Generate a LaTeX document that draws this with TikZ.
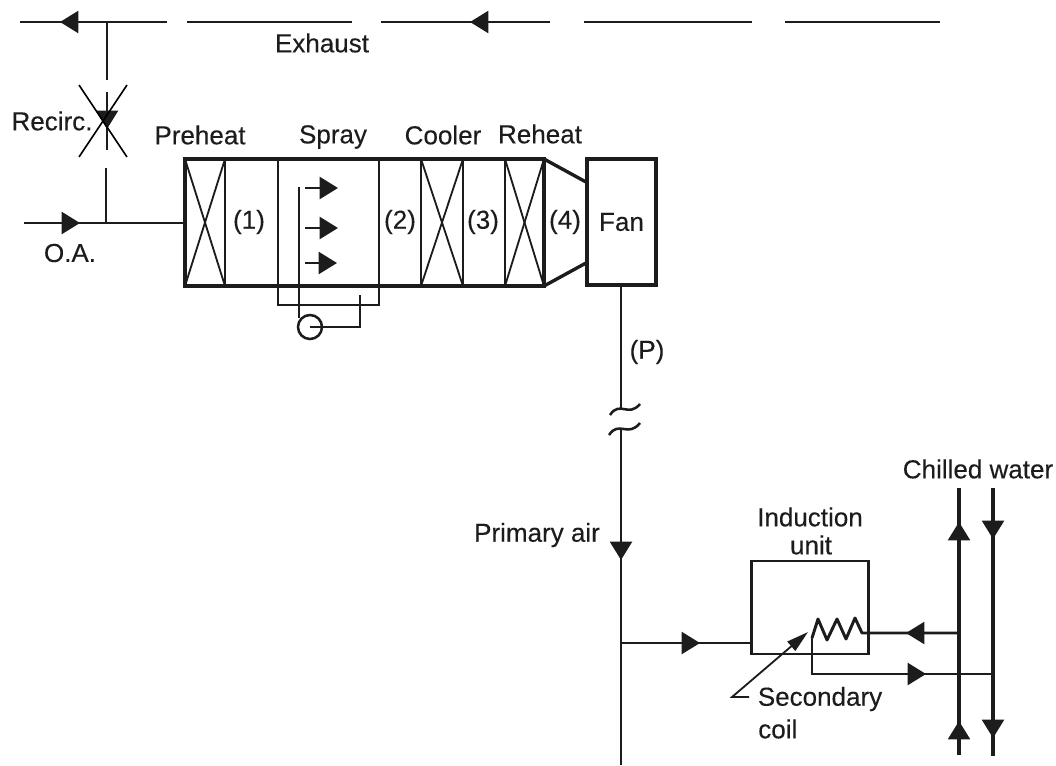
\documentclass[tikz,border=0pt]{standalone}
\usepackage{fontspec}
\setmainfont[FakeBold=0.25]{Liberation Sans}
\usetikzlibrary{arrows.meta}
\definecolor{ink}{HTML}{1C1C1C}
\tikzset{
  thin line/.style={draw=ink,line width=1.3pt},
  pipe/.style={draw=ink,line width=1.8pt},
  wall/.style={draw=ink,line width=2.4pt,line join=miter},
  partition/.style={draw=ink,line width=2pt},
  flow/.style={draw=ink,line width=1.8pt,-{Triangle[length=0.46cm,width=0.55cm]}},
  leader/.style={draw=ink,line width=1.3pt,-{Triangle[length=0.55cm,width=0.3cm]}},
  lab/.style={text=ink,font=\fontsize{18.5}{22}\selectfont,inner sep=0pt},
}

\begin{document}
\begin{tikzpicture}[x=0.025cm,y=-0.025cm]
  \useasboundingbox (0,0) rectangle (1056,765);
  % exhaust line, broken
  \coordinate (exA) at ( 20,22);
  \coordinate (exB) at (167,22);
  \coordinate (exC) at (187,22);
  \coordinate (exD) at (352,22);
  \coordinate (exE) at (381,22);
  \coordinate (exF) at (550,22);
  \coordinate (exG) at (584,22);
  \coordinate (exH) at (752,22);
  \coordinate (exI) at (785,22);
  \coordinate (exJ) at (940,22);
  \coordinate (exTipA) at ( 60,22);
  \coordinate (exTipB) at (470,22);
  \draw[pipe] (exA) -- (exB);
  \draw[pipe] (exC) -- (exD);
  \draw[pipe] (exE) -- (exF);
  \draw[pipe] (exG) -- (exH);
  \draw[pipe] (exI) -- (exJ);
  \draw[flow] (exB) -- (exTipA);
  \draw[flow] (exF) -- (exTipB);
  % recirculation, crossed out
  \coordinate (reA) at (107, 22);
  \coordinate (reB) at (107, 80);
  \coordinate (reC) at (107, 92);
  \coordinate (reD) at (107,150);
  \coordinate (reE) at (106,168);
  \coordinate (reF) at (106,223);
  \coordinate (reTip) at (107,129);
  \draw[pipe] (reA) -- (reB);
  \draw[pipe] (reC) -- (reD);
  \draw[pipe] (reE) -- (reF);
  \draw[flow] (reC) -- (reTip);
  \coordinate (crA) at ( 79, 85);
  \coordinate (crB) at (127,157);
  \coordinate (crC) at (127, 85);
  \coordinate (crD) at ( 79,157);
  \draw[black,line width=1.1pt] (crA) -- (crB);
  \draw[black,line width=1.1pt] (crC) -- (crD);
  % outside air
  \coordinate (oaA) at ( 24,223);
  \coordinate (oaB) at (185,223);
  \coordinate (oaTip) at (80,223);
  \draw[pipe] (oaA) -- (oaB);
  \draw[flow] (oaA) -- (oaTip);
  % casing
  \draw[wall] (185,159) rectangle (544,286);
  \draw[partition] (225,159) -- (225,286);
  \draw[partition] (278,159) -- (278,286);
  \draw[partition] (379,159) -- (379,286);
  \draw[partition] (421,159) -- (421,286);
  \draw[partition] (463,159) -- (463,286);
  \draw[partition] (505,159) -- (505,286);
  % coils
  \draw[thin line] (185,159) -- (225,286);
  \draw[thin line] (225,159) -- (185,286);
  \draw[thin line] (421,159) -- (463,286);
  \draw[thin line] (463,159) -- (421,286);
  \draw[thin line] (505,159) -- (544,286);
  \draw[thin line] (544,159) -- (505,286);
  % fan and transition
  \node[wall,rectangle,minimum width=1.725cm,minimum height=3.15cm,inner sep=0pt] (fan) at (621.5,222) {};
  \node[lab] (fanLabel) at (fan.center) {Fan};
  \draw[wall] (544,159) -- (586,182);
  \draw[wall] (544,286) -- (586,263);
  % spray
  \node[pipe,circle,minimum size=0.6cm,inner sep=0pt] (pump) at (310,327) {};
  \coordinate (hdTop) at (299,187);
  \coordinate (hdBot) at (299,318);
  \draw[pipe] (hdTop) -- (hdBot);
  \coordinate (nzA) at (305,188);
  \coordinate (nzB) at (305,228);
  \coordinate (nzC) at (305,263);
  \coordinate (nzTipA) at (338,188);
  \coordinate (nzTipB) at (338,228);
  \coordinate (nzTipC) at (337,263);
  \draw[flow] (nzA) -- (nzTipA);
  \draw[flow] (nzB) -- (nzTipB);
  \draw[flow] (nzC) -- (nzTipC);
  \coordinate (panA) at (278,286);
  \coordinate (panB) at (379,286);
  \draw[pipe] (panA) -- (278,305) -- (379,305) -- (panB);
  \coordinate (suct) at (360,295);
  \draw[pipe] (pump.center) -- (360,327) -- (suct);
  % primary air
  \coordinate (prA) at (621,286);
  \coordinate (prB) at (621,409);
  \coordinate (prC) at (621,428);
  \coordinate (prD) at (621,765);
  \coordinate (prTip) at (621,560);
  \draw[pipe] (prA) -- (prB);
  \draw[pipe] (prC) -- (prD);
  \draw[flow] (prC) -- (prTip);
  \draw[pipe] (610,415) .. controls (620,400) and (628,418) .. (640,404);
  \draw[pipe] (609,435) .. controls (619,420) and (628,438) .. (640,423);
  % induction unit
  \node[wall,line width=2pt,rectangle,minimum width=2.925cm,minimum height=2.325cm,inner sep=0pt] (unit) at (810,607.5) {};
  \coordinate (brA) at (621,643);
  \coordinate (brTip) at (700,643);
  \draw[pipe] (brA) -- (unit.west |- brA);
  \draw[flow] (brA) -- (brTip);
  % chilled water
  \coordinate (supA) at (959,488);
  \coordinate (supB) at (959,755);
  \coordinate (retA) at (993,488);
  \coordinate (retB) at (993,756);
  \coordinate (supTipA) at (959,522);
  \coordinate (supTipB) at (959,721);
  \coordinate (retTipA) at (993,539);
  \coordinate (retTipB) at (993,738);
  \draw[pipe,line width=2.2pt] (supA) -- (supB);
  \draw[pipe,line width=2.2pt] (retA) -- (retB);
  \draw[flow] (supB) -- (supTipB);
  \draw[flow] (959,640) -- (supTipA);
  \draw[flow] (retA) -- (retTipA);
  \draw[flow] (993,640) -- (retTipB);
  % secondary coil
  \coordinate (coilIn) at (959,633);
  \coordinate (coilEnd) at (862,633);
  \coordinate (coilOut) at (812,638);
  \coordinate (coilTip) at (906,633);
  \coordinate (retIn) at (993,674);
  \coordinate (retTip) at (926,674);
  \draw[pipe,line width=2.1pt,line join=round] (coilIn) -- (coilEnd) -- (855,618) -- (846,639) -- (837,619) -- (827,640) -- (818,619) -- (coilOut);
  \draw[flow] (coilIn) -- (coilTip);
  \draw[pipe,line width=2.1pt] (coilOut) -- (812,674) -- (retIn);
  \draw[flow] (812,674) -- (retTip);
  \coordinate (ldA) at (749,697);
  \coordinate (ldB) at (732,697);
  \coordinate (ldTip) at (808,632);
  \draw[leader] (ldA) -- (ldB) -- (ldTip);
  % labels
  \node[lab] (exhaustLabel) at (322,43) {Exhaust};
  \node[lab] (recircLabel) at (52,121) {Recirc.};
  \node[lab] (oaLabel) at (70,253) {O.A.};
  \node[lab] (preheatLabel) at (200,135) {Preheat};
  \node[lab] (sprayLabel) at (333,137) {Spray};
  \node[lab] (coolerLabel) at (443,135) {Cooler};
  \node[lab] (reheatLabel) at (540,134) {Reheat};
  \node[lab] (oneLabel) at (249,222) {(1)};
  \node[lab] (twoLabel) at (400,222) {(2)};
  \node[lab] (threeLabel) at (483,222) {(3)};
  \node[lab] (fourLabel) at (565,222) {(4)};
  \node[lab] (pLabel) at (647,352) {(P)};
  \node[lab] (primaryLabel) at (537,535) {Primary air};
  \node[lab] (inductionLabel) at (810,517) {Induction};
  \node[lab] (unitLabel) at (811,545) {unit};
  \node[lab] (chilledLabel) at (978,469) {Chilled water};
  \node[lab] (secondaryLabel) at (820,699) {Secondary};
  \node[lab,anchor=west] (coilLabel) at (758,729) {coil};
\end{tikzpicture}
\end{document}
